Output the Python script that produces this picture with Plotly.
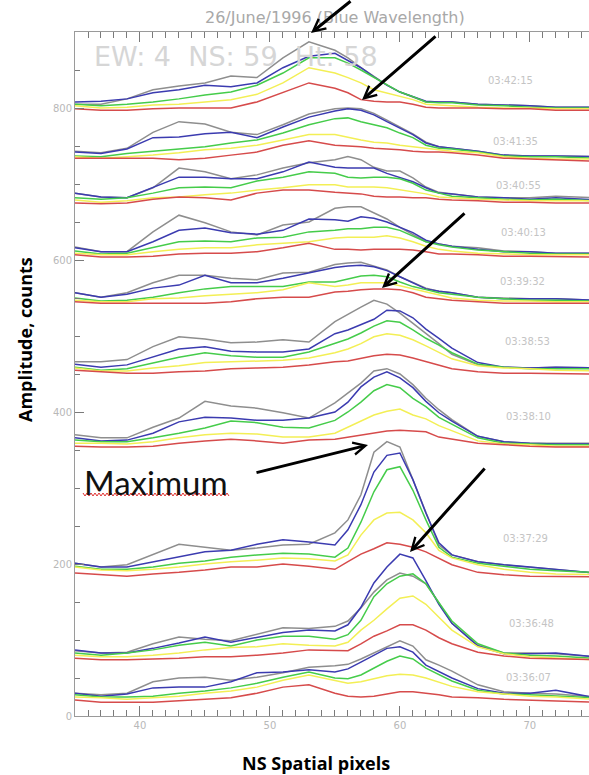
import plotly.graph_objects as go

# NS spatial pixel positions
ns_pixels = [35, 37, 39, 41, 43, 45, 47, 49, 51, 53, 55, 56, 57, 58, 59, 60, 61, 62, 63, 64, 66, 68, 70, 72, 75]
times = ["03:42:15", "03:41:35", "03:40:55", "03:40:13", "03:39:32",
         "03:38:53", "03:38:10", "03:37:29", "03:36:48", "03:36:07"]

grey_1 = [805,805,812,824,829,833,842,840,866,887,876,866,853,841,830,821,815,808,808,808,805,804,803,801,801]
blue_1 = [808,809,812,820,824,830,828,833,853,868,872,863,853,841,830,821,815,809,808,808,805,804,803,801,801]
green_1 = [805,803,805,808,812,817,821,830,846,866,866,859,850,840,830,821,815,808,807,807,804,803,801,800,800]
yellow_1 = [803,800,801,804,805,808,811,818,833,853,846,840,833,824,820,815,811,805,804,803,801,800,800,799,799]
red_1 = [799,797,797,799,800,800,800,808,821,833,826,820,811,809,808,808,805,801,800,800,800,799,799,797,797]

grey_2 = [743,741,747,768,782,779,768,765,778,792,799,800,799,793,784,775,766,755,749,747,743,738,737,737,736]
blue_2 = [742,740,746,761,762,766,768,761,775,788,796,799,797,791,782,774,765,754,749,747,743,738,737,737,736]
green_2 = [737,736,740,743,746,749,754,758,767,778,786,787,782,778,774,767,761,751,747,746,742,737,736,736,734]
yellow_2 = [736,734,736,738,741,745,747,751,758,765,765,762,758,755,754,751,749,747,745,743,741,736,734,733,733]
red_2 = [734,734,734,734,732,734,738,742,751,757,751,750,749,747,746,745,743,742,742,741,738,734,733,732,730]

grey_3 = [688,683,682,695,721,716,707,712,721,728,732,736,732,722,717,717,708,696,689,687,683,682,682,684,682]
blue_3 = [688,683,682,695,709,709,707,707,716,729,722,721,721,721,714,709,703,695,688,687,683,682,680,682,679]
green_3 = [682,680,682,688,695,696,695,704,709,716,714,709,708,709,709,707,701,692,688,684,682,680,679,680,678]
yellow_3 = [679,676,678,682,683,686,688,692,695,699,699,696,696,696,695,692,689,687,683,682,680,679,678,678,678]
red_3 = [675,674,675,680,683,682,679,688,692,692,689,688,687,684,683,683,682,682,680,679,678,676,676,675,675]

grey_4 = [617,611,611,637,659,649,637,633,646,650,668,670,670,662,654,643,634,624,621,618,616,612,611,609,609]
blue_4 = [616,611,611,624,639,642,636,634,639,654,653,651,657,655,650,643,636,626,621,618,614,611,611,609,609]
green_4 = [612,608,609,617,624,625,624,629,630,637,639,641,641,643,643,639,632,624,620,617,613,611,609,608,608]
yellow_4 = [609,607,607,611,614,616,616,620,622,624,629,630,630,630,632,629,624,618,614,612,609,608,607,607,607]
red_4 = [607,604,604,605,608,609,609,611,616,622,614,614,613,614,614,614,613,611,608,608,607,605,605,605,604]

grey_5 = [557,551,557,570,580,580,576,574,583,584,594,596,597,592,587,578,570,563,559,557,551,550,549,549,547]
blue_5 = [557,551,555,563,567,580,570,570,576,583,590,592,593,591,586,578,570,562,559,557,551,549,549,549,547]
green_5 = [550,546,547,551,557,562,565,565,565,571,571,575,579,580,578,571,565,561,557,555,551,549,547,547,546]
yellow_5 = [547,545,545,549,550,553,555,557,561,570,565,567,570,570,570,566,562,558,554,550,547,546,546,545,545]
red_5 = [545,543,543,543,543,543,545,549,551,551,558,559,561,562,562,561,557,551,549,547,545,543,543,543,543]

grey_6 = [466,466,469,486,499,496,491,492,495,492,519,529,538,547,542,530,517,503,490,476,462,459,458,459,458]
blue_6 = [463,459,462,472,483,486,480,479,479,483,503,508,515,522,534,533,524,509,497,484,465,459,458,459,458]
green_6 = [459,455,457,465,472,478,474,472,472,479,490,496,504,513,520,518,508,497,488,478,463,459,457,457,457]
yellow_6 = [458,454,454,458,461,465,466,467,468,471,478,483,490,499,503,501,495,487,479,470,461,458,457,455,454]
red_6 = [455,453,451,451,453,454,457,458,459,462,466,467,471,474,476,475,471,466,461,457,453,451,451,451,450]

grey_7 = [370,366,366,380,392,414,408,405,399,392,412,425,438,454,457,450,436,418,403,390,368,361,359,359,359]
blue_7 = [366,362,363,372,387,393,392,389,389,392,400,413,433,446,453,445,432,414,399,388,368,361,359,358,358]
green_7 = [363,361,361,366,372,379,388,386,380,379,389,400,413,428,436,432,418,407,393,384,366,359,358,357,357]
yellow_7 = [359,359,358,361,366,370,372,371,367,367,372,380,388,396,401,404,396,391,382,375,362,358,357,355,355]
red_7 = [355,354,354,355,359,362,364,362,359,363,364,367,370,372,375,376,375,374,367,364,359,357,355,354,354]

grey_8 = [201,196,199,212,226,222,218,221,225,226,241,258,291,347,361,354,311,267,225,212,203,199,196,193,188]
blue_8 = [201,196,196,203,209,216,218,226,232,229,225,245,278,321,343,346,311,267,228,212,203,199,196,193,188]
green_8 = [197,193,193,196,201,204,209,212,214,213,209,221,255,295,324,328,297,258,222,209,201,197,193,191,189]
yellow_8 = [196,192,191,193,196,200,203,205,208,207,204,212,238,258,267,268,258,241,218,208,199,193,189,187,186]
red_8 = [188,186,184,187,189,192,196,196,200,197,193,203,213,220,228,226,222,216,207,199,189,186,184,184,183]

grey_9 = [86,83,84,95,104,101,99,108,116,115,118,125,142,163,179,188,184,174,149,122,93,83,83,82,78]
blue_9 = [87,83,83,89,96,104,97,104,110,113,112,120,143,175,196,213,208,178,147,122,92,82,82,83,78]
green_9 = [83,80,83,87,93,97,92,100,105,105,101,107,126,157,174,184,187,174,149,125,95,83,80,79,76]
yellow_9 = [80,78,78,80,83,87,90,91,95,93,92,97,113,126,141,155,158,147,130,113,91,82,78,76,74]
red_9 = [76,74,74,75,76,78,78,80,83,87,86,86,95,105,112,120,120,113,103,95,84,79,76,75,74]

grey_10 = [30,28,30,45,50,51,47,51,57,64,66,68,75,83,92,99,92,74,67,59,41,32,30,29,25]
blue_10 = [30,26,29,37,38,38,45,57,58,61,58,62,71,80,89,91,84,67,58,50,36,30,30,34,24]
green_10 = [28,25,25,26,30,33,37,43,51,58,50,49,54,63,72,79,75,63,54,46,34,29,28,26,24]
yellow_10 = [25,24,22,24,26,30,33,38,47,54,46,43,45,49,53,55,54,50,45,39,32,29,26,25,22]
red_10 = [21,18,18,18,20,22,24,30,38,41,30,26,25,26,29,32,32,30,28,25,24,22,21,20,18]

groups = [
    (grey_1, blue_1, green_1, yellow_1, red_1),
    (grey_2, blue_2, green_2, yellow_2, red_2),
    (grey_3, blue_3, green_3, yellow_3, red_3),
    (grey_4, blue_4, green_4, yellow_4, red_4),
    (grey_5, blue_5, green_5, yellow_5, red_5),
    (grey_6, blue_6, green_6, yellow_6, red_6),
    (grey_7, blue_7, green_7, yellow_7, red_7),
    (grey_8, blue_8, green_8, yellow_8, red_8),
    (grey_9, blue_9, green_9, yellow_9, red_9),
    (grey_10, blue_10, green_10, yellow_10, red_10),
]
line_colors = ["#8e8e8e", "#3b3bb0", "#45cc4a", "#f3ef55", "#d64b4b"]

# page geometry
W, H = 589, 775
ML, MT, MB, MR = 75, 32, 59, 0
PW, PH = W - ML - MR, H - MT - MB


def paper(px, py):
    return (px - ML) / PW, (H - MB - py) / PH


fig = go.Figure()
for grp in groups:
    for series, col in zip(grp, line_colors):
        fig.add_trace(go.Scatter(x=ns_pixels, y=series, mode="lines",
                                 line=dict(color=col, width=1.5),
                                 showlegend=False, hoverinfo="skip"))
# invisible trace to activate the top (mirror) axis
fig.add_trace(go.Scatter(x=[ns_pixels[0]], y=[red_10[0]], xaxis="x2", mode="markers",
                         marker=dict(opacity=0), showlegend=False, hoverinfo="skip"))

annotations = []

# time stamps
time_pos = [(510, 80), (515, 141), (518, 185), (523, 232), (522, 281),
            (527, 341), (528, 416), (525, 538), (531, 623), (528, 677)]
for t, (tx, ty) in zip(times, time_pos):
    ax_, ay_ = paper(tx, ty)
    annotations.append(dict(x=ax_, y=ay_, xref="paper", yref="paper", text=t,
                            showarrow=False, xanchor="center", yanchor="middle",
                            font=dict(family="DejaVu Sans", size=10, color="#c4c4c4")))

# title and header text
tx, ty = paper(335, 17)
annotations.append(dict(x=tx, y=ty, xref="paper", yref="paper",
                        text="26/June/1996 (Blue Wavelength)", showarrow=False,
                        xanchor="center", yanchor="middle",
                        font=dict(family="DejaVu Sans", size=16, color="#a8a8a8")))
tx, ty = paper(92, 56)
annotations.append(dict(x=tx, y=ty, xref="paper", yref="paper",
                        text="EW: 4  NS: 59  Ht: 58", showarrow=False,
                        xanchor="left", yanchor="middle",
                        font=dict(family="DejaVu Sans", size=27, color="#d6d6d6")))

# Maximum label
tx, ty = paper(82, 482)
annotations.append(dict(x=tx, y=ty, xref="paper", yref="paper",
                        text="Maximum", showarrow=False,
                        xanchor="left", yanchor="middle",
                        font=dict(family="Lato", size=33, color="#111111")))

# axis titles
tx, ty = paper(25, 340)
annotations.append(dict(x=tx, y=ty, xref="paper", yref="paper",
                        text="<b>Amplitude, counts</b>", showarrow=False, textangle=-90,
                        xanchor="center", yanchor="middle",
                        font=dict(family="Open Sans", size=18, color="#000000")))
tx, ty = paper(316, 763)
annotations.append(dict(x=tx, y=ty, xref="paper", yref="paper",
                        text="<b>NS Spatial pixels</b>", showarrow=False,
                        xanchor="center", yanchor="middle",
                        font=dict(family="Open Sans", size=18, color="#000000")))

# arrows (head, tail) in page pixels
arrows = [((311, 33), (352, -4)),
          ((362, 100), (437, 35)),
          ((382, 288), (466, 212)),
          ((368, 445), (255, 473)),
          ((410, 552), (486, 467))]
for (hx, hy), (tx_, ty_) in arrows:
    px_, py_ = paper(hx, hy)
    annotations.append(dict(x=px_, y=py_, xref="paper", yref="paper", text="",
                            showarrow=True, arrowhead=5, arrowsize=0.8, arrowwidth=3,
                            arrowcolor="#000000", ax=tx_ - hx, ay=ty_ - hy, standoff=0))

# red spell-check squiggle under "Maximum"
pts = []
xx = 83
k = 0
while xx <= 229:
    yy = 493 if k % 2 == 0 else 496
    pts.append(paper(xx, yy))
    xx += 2
    k += 1
path = "M " + " L ".join(f"{p[0]:.5f},{p[1]:.5f}" for p in pts)
shapes = [dict(type="path", path=path, xref="paper", yref="paper",
               line=dict(color="#e03030", width=1))]

axis_col = "#9a9a9a"
tick_col = "#7a7a7a"
x_common = dict(range=[35, 74.55], showgrid=False, zeroline=False,
                showline=True, linecolor=axis_col, linewidth=1,
                ticks="inside", ticklen=10, tickwidth=1.3, tickcolor=tick_col,
                tickmode="linear", dtick=10, tick0=0,
                minor=dict(dtick=1, tick0=0, ticks="inside", ticklen=6, tickwidth=1.3,
                           tickcolor=tick_col, showgrid=False))
fig.update_layout(
    width=W, height=H,
    margin=dict(l=ML, r=MR, t=MT, b=MB, pad=0),
    paper_bgcolor="white", plot_bgcolor="white",
    showlegend=False,
    annotations=annotations,
    shapes=shapes,
    xaxis=dict(**x_common,
               tickfont=dict(family="DejaVu Sans", size=10, color="#b8b8b8")),
    xaxis2=dict(**x_common, overlaying="x", side="top", showticklabels=False),
    yaxis=dict(range=[0, 900], showgrid=False, zeroline=False,
               showline=True, linecolor=axis_col, linewidth=1,
               ticks="inside", ticklen=9, tickwidth=1.3, tickcolor=tick_col,
               tickmode="linear", dtick=200, tick0=0,
               minor=dict(dtick=50, tick0=0, ticks="inside", ticklen=5, tickwidth=1.3,
                          tickcolor=tick_col, showgrid=False),
               tickfont=dict(family="DejaVu Sans", size=10, color="#b8b8b8")),
)

fig.write_html("out.html")
